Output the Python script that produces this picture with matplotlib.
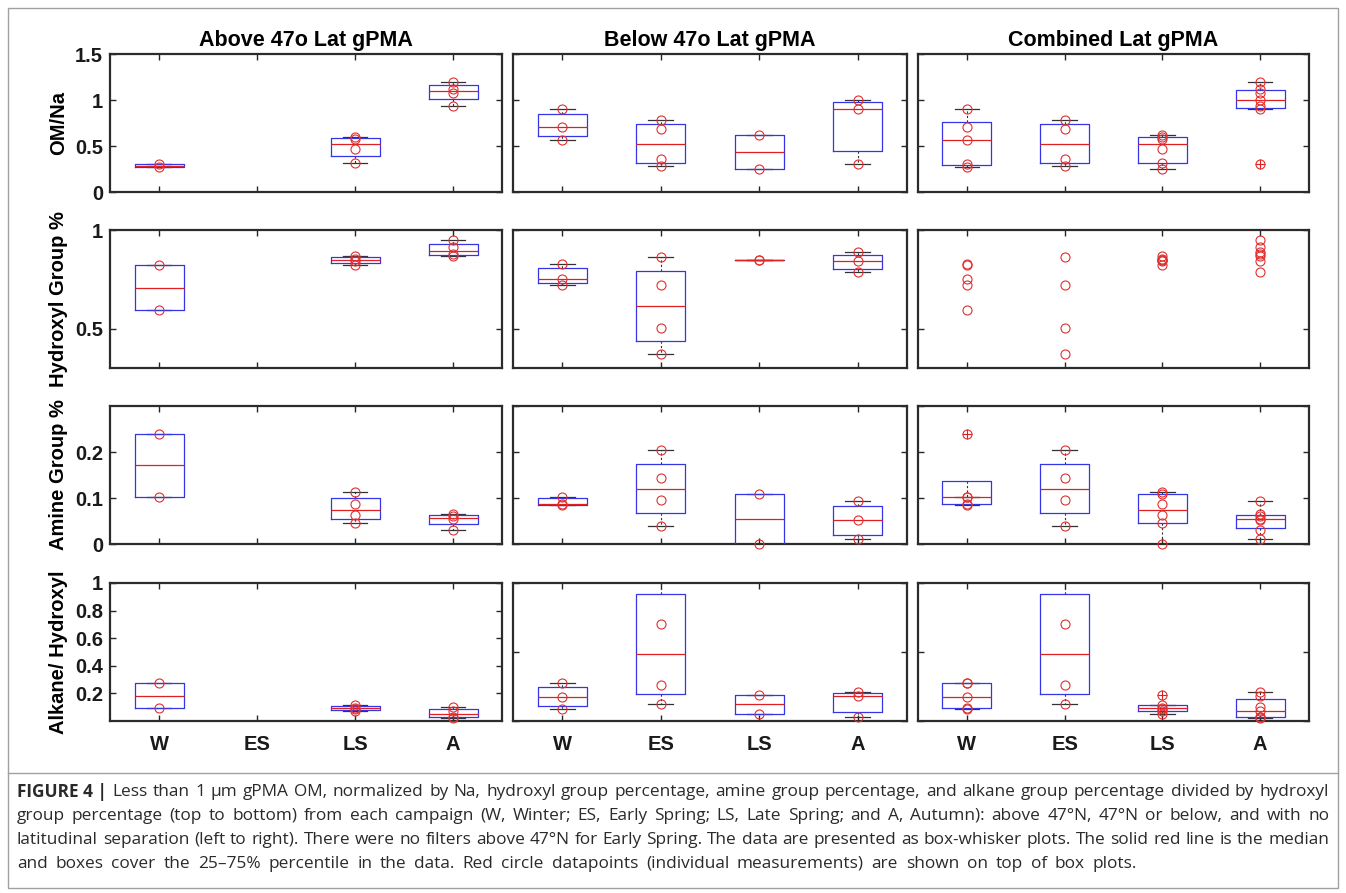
import numpy as np
import matplotlib.pyplot as plt
from matplotlib.patches import Rectangle
from matplotlib.lines import Line2D

seasons = ['W', 'ES', 'LS', 'A']
col_titles = ['Above 47o Lat gPMA', 'Below 47o Lat gPMA', 'Combined Lat gPMA']
row_labels = ['OM/Na', 'Hydroxyl Group %', 'Amine Group %', 'Alkane/ Hydroxyl']

# values per season (W, ES, LS, A)
om_above = [[0.27, 0.30], [], [0.31, 0.47, 0.58, 0.60], [0.94, 1.08, 1.12, 1.20]]
om_below = [[0.57, 0.71, 0.90], [0.28, 0.36, 0.69, 0.78], [0.25, 0.62], [0.30, 0.90, 1.00]]

hyd_above = [[0.595, 0.82], [], [0.823, 0.845, 0.855, 0.868], [0.866, 0.876, 0.912, 0.948]]
hyd_below = [[0.722, 0.751, 0.829], [0.373, 0.505, 0.719, 0.861], [0.846, 0.846], [0.789, 0.841, 0.886]]

amine_above = [[0.103, 0.240], [], [0.045, 0.062, 0.088, 0.114], [0.030, 0.055, 0.060, 0.065]]
amine_below = [[0.084, 0.087, 0.103], [0.040, 0.096, 0.143, 0.204], [0.0, 0.109], [0.010, 0.052, 0.093]]

alk_above = [[0.092, 0.275], [], [0.072, 0.085, 0.097, 0.116], [0.022, 0.032, 0.072, 0.102]]
alk_below = [[0.089, 0.176, 0.273], [0.123, 0.263, 0.703, 1.133], [0.053, 0.188], [0.027, 0.183, 0.210]]

ylims = [(0, 1.5), (0.3, 1), (0, 0.3), (0, 1)]
yticks_left = [[0, 0.5, 1, 1.5], [0.5, 1], [0, 0.1, 0.2], [0.2, 0.4, 0.6, 0.8, 1]]
ytick_labels_left = [['0', '0.5', '1', '1.5'], ['0.5', '1'], ['0', '0.1', '0.2'],
                     ['0.2', '0.4', '0.6', '0.8', '1']]
yticks_other = [[0, 0.5, 1, 1.5], [0.5, 1], [0, 0.1, 0.2, 0.3], [0, 0.5, 1]]

caption_head = "FIGURE 4 |"
caption_lines = [
    "Less than 1 \u03bcm gPMA OM, normalized by Na, hydroxyl group percentage, amine group percentage, and alkane group percentage divided by hydroxyl",
    "group percentage (top to bottom) from each campaign (W, Winter; ES, Early Spring; LS, Late Spring; and A, Autumn): above 47\u00b0N, 47\u00b0N or below, and with no",
    "latitudinal separation (left to right). There were no filters above 47\u00b0N for Early Spring. The data are presented as box-whisker plots. The solid red line is the median",
    "and boxes cover the 25\u201375% percentile in the data. Red circle datapoints (individual measurements) are shown on top of box plots.",
]

rows = [(om_above, om_below), (hyd_above, hyd_below), (amine_above, amine_below), (alk_above, alk_below)]

W, H = 1346, 893
col_x = [(110, 502), (513, 907), (918, 1309)]
row_y = [(54, 192), (230, 368), (406, 544), (583, 721)]

plt.rcParams['font.family'] = ['Liberation Sans', 'DejaVu Sans']


def box_stats(vals):
    # matlab style prctile (hazen) and 1.5 IQR whiskers
    v = np.sort(np.asarray(vals, dtype=float))
    q1, med, q3 = np.percentile(v, [25, 50, 75], method='hazen')
    iqr = q3 - q1
    ok = (v >= q1 - 1.5 * iqr) & (v <= q3 + 1.5 * iqr)
    return dict(q1=q1, med=med, q3=q3, whislo=v[ok].min(), whishi=v[ok].max(), fliers=v[~ok])


fig = plt.figure(figsize=(W / 100, H / 100), dpi=100)

for r, (above, below) in enumerate(rows):
    combined = [above[k] + below[k] for k in range(4)]
    for c, data in enumerate([above, below, combined]):
        x0, x1 = col_x[c]
        y0, y1 = row_y[r]
        ax = fig.add_axes([x0 / W, 1 - y1 / H, (x1 - x0) / W, (y1 - y0) / H])

        # the combined hydroxyl panel shows only the points
        if not (r == 1 and c == 2):
            stats = [box_stats(d) for d in data if len(d) > 0]
            pos = [k + 1 for k, d in enumerate(data) if len(d) > 0]
            ax.bxp(stats, positions=pos, widths=0.5, capwidths=0.25, showfliers=True,
                   boxprops=dict(color='#3535e8', lw=0.9, zorder=3),
                   medianprops=dict(color='#e02020', lw=0.9, zorder=4),
                   whiskerprops=dict(color='#333333', lw=0.8, ls=(0, (2, 2)), zorder=2),
                   capprops=dict(color='#333333', lw=0.9, zorder=2),
                   flierprops=dict(marker='+', markeredgecolor='#e02020', markersize=7, mew=0.8))

        lo, hi = ylims[r]
        for k, d in enumerate(data):
            v = np.array([x for x in d if lo <= x <= hi])
            ax.plot(np.full(len(v), k + 1), v, 'o', mfc='none', mec='#e03030', ms=6.5, mew=0.8,
                    clip_on=False, zorder=5)

        ax.set_xlim(0.5, 4.5)
        ax.set_ylim(lo, hi)
        ax.set_xticks([1, 2, 3, 4])
        if r == 3:
            ax.set_xticklabels(seasons, fontsize=14.5, fontweight='bold')
        else:
            ax.set_xticklabels([])
        if c == 0:
            ax.set_yticks(yticks_left[r])
            ax.set_yticklabels(ytick_labels_left[r], fontsize=14.5, fontweight='bold')
            ax.set_ylabel(row_labels[r], fontsize=14.5, fontweight='bold')
            ax.yaxis.set_label_coords(-0.108, 0.5)
        else:
            ax.set_yticks(yticks_other[r])
            ax.set_yticklabels([])
        if r == 0:
            ax.set_title(col_titles[c], fontsize=15.5, fontweight='bold', pad=6)

        ax.tick_params(direction='in', length=4, width=1, top=True, right=True,
                       colors='#262626', labelcolor='#1a1a1a')
        ax.tick_params(axis='x', pad=10)
        ax.tick_params(axis='y', pad=5)
        for s in ax.spines.values():
            s.set_linewidth(1.6)
            s.set_color('#2b2b2b')

# frame and caption
fig.add_artist(Rectangle((8 / W, 1 - 888 / H), 1330 / W, 880 / H, fill=False,
                         ec='#a0a0a0', lw=1, transform=fig.transFigure))
fig.add_artist(Line2D([8 / W, 1338 / W], [1 - 773 / H, 1 - 773 / H], color='#a0a0a0', lw=1))

cap_font = ['Open Sans', 'DejaVu Sans']
cap_size = 12.4
cap_y = [792, 816, 840, 864]
cap_left = 17
cap_right = [1329, 1329, 1329, 1137]
renderer = fig.canvas.get_renderer()


def caption_line(words, yy, right):
    # words: list of (text, weight); gaps spread so the line ends at `right`
    txts = [fig.text(0, 1 - yy / H, w, fontsize=cap_size, fontweight=wt, family=cap_font,
                     color='#2a2a2a', va='center') for w, wt in words]
    widths = [t.get_window_extent(renderer).width for t in txts]
    gap = max((right - cap_left - sum(widths)) / (len(txts) - 1), 2.5)
    x = cap_left
    for t, wd in zip(txts, widths):
        t.set_x(x / W)
        x += wd + gap


for i, line in enumerate(caption_lines):
    words = [(w, 'normal') for w in line.split(' ')]
    if i == 0:
        words = [(caption_head, 'bold')] + words
    caption_line(words, cap_y[i], cap_right[i])

fig.savefig('out.png', dpi=100)
